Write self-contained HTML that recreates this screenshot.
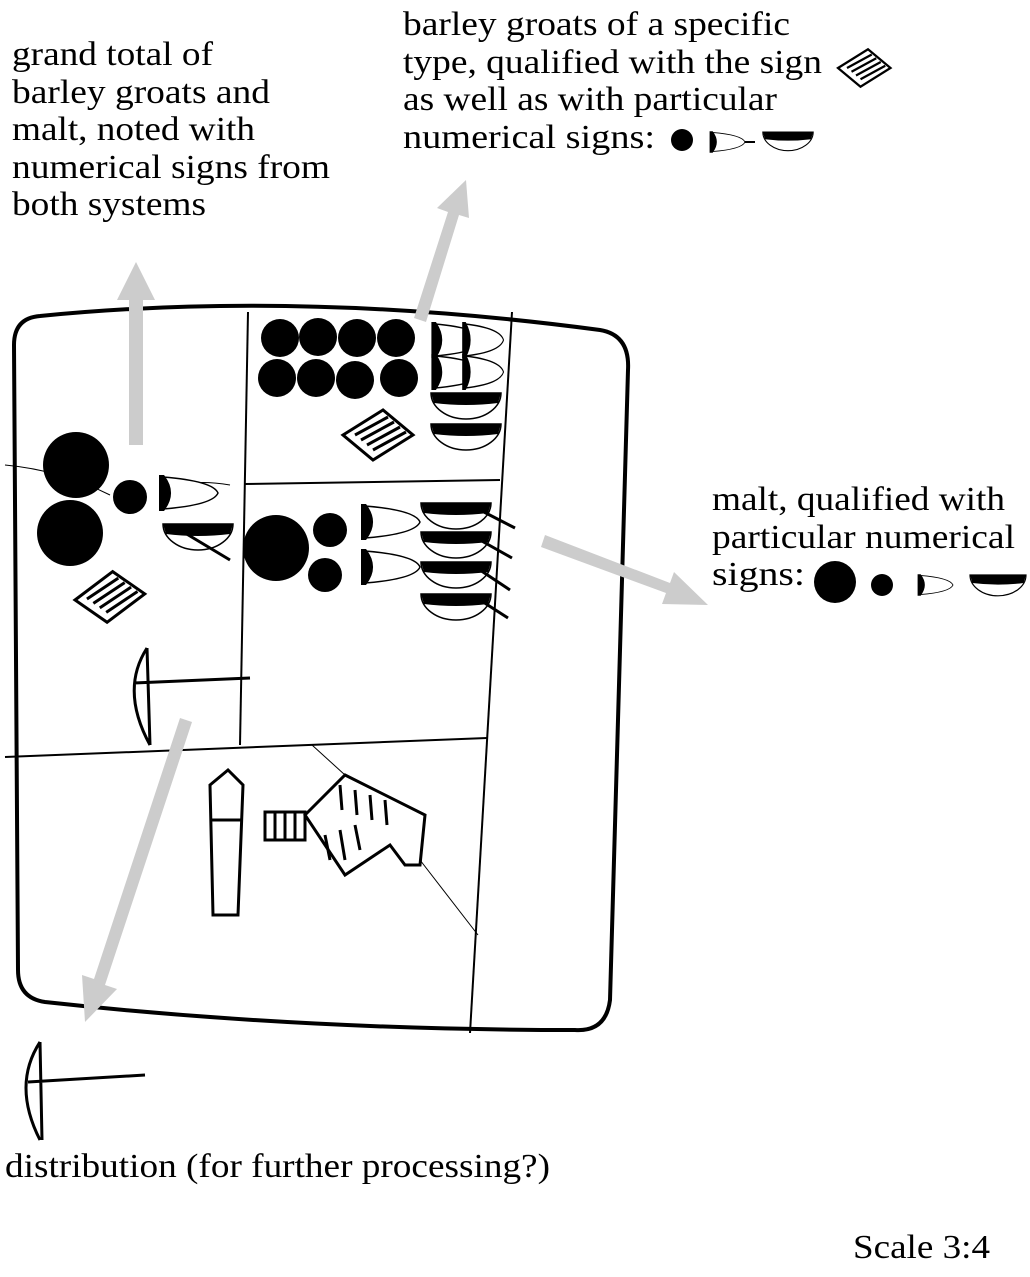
<!DOCTYPE html>
<html><head><meta charset="utf-8"><style>
html,body{margin:0;padding:0;background:#fff}
svg{display:block}
text{font-family:"Liberation Serif",serif;font-size:34px;fill:#000}
</style></head><body>
<svg width="1030" height="1277" viewBox="0 0 1030 1277">
<defs>
<g id="bowl"><path d="M-35,0 A35,26 0 0 0 35,0 Z" fill="#fff" stroke="#000" stroke-width="1.5"/><path d="M-35,0 L35,0 L32,10 Q0,14 -32,10 Z" fill="#000"/></g>
<g id="dee"><path d="M0,-16 L0,16 Q50,12 55,0 Q50,-12 0,-16 Z" fill="#fff" stroke="#000" stroke-width="1.5"/><path d="M0,-16 Q12,0 0,16 L-2,16 L-2,-16 Z" fill="#000" stroke="#000" stroke-width="4"/></g>
<g id="grain"><path d="M0,0 L40,-25 L70,0 L30,25 Z" fill="#fff" stroke="#000" stroke-width="3"/><path d="M12,0 L45,-18 M18,5 L51,-13 M24,10 L57,-8 M30,15 L63,-3" stroke="#000" stroke-width="3"/></g>
</defs>

<g>
<text x="12" y="65" textLength="201" lengthAdjust="spacingAndGlyphs">grand total of</text>
<text x="12" y="103" textLength="258" lengthAdjust="spacingAndGlyphs">barley groats and</text>
<text x="12" y="140" textLength="243" lengthAdjust="spacingAndGlyphs">malt, noted with</text>
<text x="12" y="178" textLength="318" lengthAdjust="spacingAndGlyphs">numerical signs from</text>
<text x="12" y="215" textLength="194" lengthAdjust="spacingAndGlyphs">both systems</text>
</g>
<g>
<text x="403" y="35" textLength="387" lengthAdjust="spacingAndGlyphs">barley groats of a specific</text>
<text x="403" y="73" textLength="419" lengthAdjust="spacingAndGlyphs">type, qualified with the sign</text>
<text x="403" y="110" textLength="374" lengthAdjust="spacingAndGlyphs">as well as with particular</text>
<text x="403" y="148" textLength="252" lengthAdjust="spacingAndGlyphs">numerical signs:</text>
</g>
<use href="#grain" transform="translate(838,68) scale(0.75)"/>
<g>
<circle cx="682" cy="140" r="11"/><use href="#dee" transform="translate(712,142) scale(0.6)"/>
<line x1="745" y1="142" x2="755" y2="142" stroke="#000" stroke-width="2"/>
<use href="#bowl" transform="translate(788,132) scale(0.72)"/>
</g>
<g>
<text x="712" y="510" textLength="293" lengthAdjust="spacingAndGlyphs">malt, qualified with</text>
<text x="712" y="548" textLength="303" lengthAdjust="spacingAndGlyphs">particular numerical</text>
<text x="712" y="585" textLength="93" lengthAdjust="spacingAndGlyphs">signs:</text>
</g>
<g>
<circle cx="835" cy="582" r="21"/><circle cx="882" cy="585" r="11"/>
<use href="#dee" transform="translate(920,585) scale(0.6)"/>
<use href="#bowl" transform="translate(998,575) scale(0.8)"/>
</g>
<text x="5" y="1177" textLength="545" lengthAdjust="spacingAndGlyphs">distribution (for further processing?)</text>
<text x="853" y="1258" textLength="137" lengthAdjust="spacingAndGlyphs">Scale 3:4</text>

<path d="M40,316 Q300,290 600,330 Q630,335 628,370 L610,1000 Q606,1032 575,1030 Q300,1030 45,1002 Q18,998 18,970 L14,345 Q14,318 40,316 Z" fill="none" stroke="#000" stroke-width="4"/>
<g stroke="#000" stroke-width="2" fill="none">
<line x1="248" y1="312" x2="240" y2="745"/>
<line x1="512" y1="312" x2="470" y2="1033"/>
<line x1="5" y1="757" x2="487" y2="738"/>
<line x1="245" y1="484" x2="500" y2="480"/>
<path d="M5,465 Q60,470 110,495 M230,485 Q200,480 180,485" stroke-width="1"/>
<path d="M312,745 L345,775 M420,860 L478,935" stroke-width="1"/>
</g>

<g>
<circle cx="280" cy="338" r="19"/><circle cx="318" cy="337" r="19"/><circle cx="357" cy="338" r="19"/><circle cx="396" cy="338" r="19"/>
<circle cx="277" cy="378" r="19"/><circle cx="316" cy="378" r="19"/><circle cx="355" cy="380" r="19"/><circle cx="399" cy="378" r="19"/>
<use href="#dee" transform="translate(435,340) scale(0.9,1)"/><use href="#dee" transform="translate(465,340) scale(0.7,1)"/>
<use href="#dee" transform="translate(435,372) scale(0.9,1)"/><use href="#dee" transform="translate(465,372) scale(0.7,1)"/>
<use href="#bowl" transform="translate(466,393)"/>
<use href="#bowl" transform="translate(466,424)"/>
<use href="#grain" transform="translate(343,435)"/>
</g>

<g>
<circle cx="76" cy="465" r="33"/><circle cx="70" cy="533" r="33"/><circle cx="130" cy="497" r="17"/>
<use href="#dee" transform="translate(163,493)"/>
<use href="#bowl" transform="translate(198,524)"/>
<line x1="180" y1="530" x2="230" y2="560" stroke="#000" stroke-width="3"/>
<use href="#grain" transform="translate(75,600) rotate(-5)"/>
<path d="M147,648 Q120,690 150,745 M147,648 L150,745 M134,683 L250,678" fill="none" stroke="#000" stroke-width="3"/>
</g>

<g>
<circle cx="276" cy="548" r="33"/><circle cx="330" cy="530" r="17"/><circle cx="325" cy="575" r="17"/>
<use href="#dee" transform="translate(365,522)"/><use href="#dee" transform="translate(365,567)"/>
<use href="#bowl" transform="translate(456,503)"/><use href="#bowl" transform="translate(456,532)"/>
<use href="#bowl" transform="translate(456,562)"/><use href="#bowl" transform="translate(456,594)"/>
<g stroke="#000" stroke-width="3"><line x1="480" y1="510" x2="515" y2="528"/><line x1="480" y1="540" x2="512" y2="558"/><line x1="480" y1="570" x2="510" y2="590"/><line x1="480" y1="600" x2="508" y2="618"/></g>
</g>

<g fill="none" stroke="#000" stroke-width="3">
<path d="M210,785 L228,770 L243,785 L238,915 L213,915 Z M210,820 L243,820"/>
<path d="M265,812 L305,812 L305,840 L265,840 Z M275,812 L275,840 M285,812 L285,840 M295,812 L295,840"/>
<path d="M305,815 L345,775 L425,815 L420,865 L405,865 L390,845 L345,875 Z"/>
<path d="M340,785 L342,810 M355,790 L357,815 M370,795 L372,820 M385,800 L387,825 M325,835 L330,860 M340,830 L345,860 M355,825 L360,850"/>
</g>

<g fill="#ccc">
<path d="M129,445 L129,300 L117,300 L136,262 L155,300 L143,300 L143,445 Z"/>
<path d="M414,318 L448,212 L437,208 L466,180 L469,218 L459,215 L426,322 Z"/>
<path d="M545,535 L670,583 L674,572 L708,605 L662,604 L666,593 L541,547 Z"/>
<path d="M180,718 L192,722 L105,985 L117,989 L85,1022 L82,975 L94,979 Z"/>
</g>

<path d="M40,1042 Q12,1085 40,1140 M40,1042 L42,1140 M28,1082 L145,1075" fill="none" stroke="#000" stroke-width="3"/>
</svg>
</body></html>
